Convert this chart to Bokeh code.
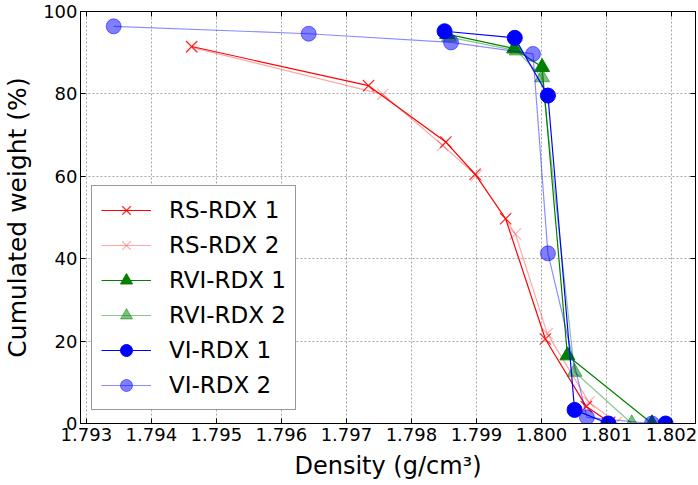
from bokeh.plotting import figure
from bokeh.models import (FixedTicker, PrintfTickFormatter, Range1d, LinearAxis, Legend,
                          LegendItem, CustomJSTickFormatter)
from bokeh.embed import file_html
from bokeh.resources import INLINE

# ---- data ----
rs1_x = [1.79462, 1.79734, 1.79853, 1.79898, 1.79945, 1.80006, 1.80069, 1.80105]
rs1_y = [91.5, 82.0, 68.3, 60.5, 49.7, 20.5, 4.1, 0.3]
rs2_x = [1.79462, 1.79756, 1.79848, 1.79900, 1.79960, 1.80009, 1.80073, 1.80115]
rs2_y = [91.3, 79.9, 67.5, 60.2, 46.0, 21.8, 5.2, 0.2]
rvi1_x = [1.79855, 1.79958, 1.80001, 1.80040, 1.80170]
rvi1_y = [94.5, 91.0, 86.5, 16.5, 0.0]
rvi2_x = [1.79858, 1.79962, 1.80001, 1.80051, 1.80139]
rvi2_y = [93.8, 90.5, 84.0, 12.5, 0.0]
vi1_x = [1.79851, 1.79959, 1.80010, 1.80051, 1.80103, 1.80191]
vi1_y = [95.2, 93.6, 79.6, 3.3, 0.0, 0.0]
vi2_x = [1.79342, 1.79642, 1.79861, 1.79987, 1.80010, 1.80070, 1.80170]
vi2_y = [96.4, 94.6, 92.5, 89.7, 41.3, 1.5, 0.0]

x_ticks = [1.793, 1.794, 1.795, 1.796, 1.797, 1.798, 1.799, 1.800, 1.801, 1.802]
y_ticks = [0, 20, 40, 60, 80, 100]

FONT = "DejaVu Sans"

p = figure(width=698, height=485, output_backend="svg", toolbar_location=None,
           x_range=Range1d(1.79291, 1.80237), y_range=Range1d(0, 100),
           min_border_left=79, min_border_right=3, min_border_top=11, min_border_bottom=62)
p.background_fill_color = "white"
p.border_fill_color = "white"
p.outline_line_color = "black"
p.outline_line_width = 1

for ax in (p.xaxis[0], p.yaxis[0]):
    ax.major_tick_in = 5
    ax.major_tick_out = 0
    ax.minor_tick_line_color = None
    ax.axis_line_color = "black"
    ax.major_label_text_font = FONT
    ax.major_label_text_font_size = "18px"
    ax.major_label_text_color = "black"
    ax.axis_label_text_font = FONT
    ax.axis_label_text_font_size = "24px"
    ax.axis_label_text_font_style = "normal"
    ax.axis_label_text_color = "black"
p.yaxis.axis_label_text_font_size = "25px"

p.xaxis.ticker = FixedTicker(ticks=x_ticks)
p.xaxis.formatter = PrintfTickFormatter(format="%.3f")
p.yaxis.ticker = FixedTicker(ticks=y_ticks)
p.xaxis.major_label_standoff = 4
p.yaxis.major_label_standoff = 3
p.xaxis.axis_label = "Density (g/cm³)"
p.yaxis.axis_label = "Cumulated weight (%)"
p.xaxis.axis_label_standoff = 8
p.yaxis.axis_label_standoff = 8

# tick marks on top / right (no labels)
blank = CustomJSTickFormatter(code="return ''")
top = LinearAxis(ticker=FixedTicker(ticks=x_ticks), formatter=blank,
                 major_tick_in=5, major_tick_out=0, minor_tick_line_color=None,
                 major_label_standoff=0)
right = LinearAxis(ticker=FixedTicker(ticks=y_ticks), formatter=blank,
                   major_tick_in=5, major_tick_out=0, minor_tick_line_color=None,
                   major_label_standoff=0)
p.add_layout(top, "above")
p.add_layout(right, "right")

p.xgrid.ticker = FixedTicker(ticks=x_ticks)
p.ygrid.ticker = FixedTicker(ticks=y_ticks)
for g in (p.xgrid[0], p.ygrid[0]):
    g.grid_line_color = "black"
    g.grid_line_alpha = 0.35
    g.grid_line_dash = "2 2"
    g.grid_line_width = 1

# invisible helper glyphs drawn first in the legend
dummy_l = p.line([], [], line_color="white", line_alpha=0.0)
dummy_s = p.scatter([], [], marker="x", size=0, line_color="white", line_alpha=0.0)

items = []
def series(xs, ys, color, marker, alpha_line, alpha_mark, label, size, lw, extra=()):
    r1 = p.line(xs, ys, line_color=color, line_alpha=alpha_line, line_width=lw)
    if marker == "x":
        r2 = p.scatter(xs, ys, marker="x", size=size, line_color=color, line_alpha=alpha_mark, line_width=1.2)
    else:
        r2 = p.scatter(xs, ys, marker=marker, size=size, fill_color=color, fill_alpha=alpha_mark,
                       line_color=color, line_alpha=alpha_mark)
    items.append(LegendItem(label=label, renderers=list(extra) + [r1, r2]))

series(rs1_x, rs1_y, "#ff0000", "x", 1.0, 0.85, "RS-RDX 1", 16, 1.2, extra=(dummy_l, dummy_s))
series(rs2_x, rs2_y, "#ff0000", "x", 0.35, 0.3, "RS-RDX 2", 16, 1.2)
series(rvi1_x, rvi1_y, "#008000", "triangle", 1.0, 1.0, "RVI-RDX 1", 15, 1.2)
series(rvi2_x, rvi2_y, "#008000", "triangle", 0.45, 0.5, "RVI-RDX 2", 15, 1.2)
series(vi1_x, vi1_y, "#0000ff", "circle", 1.0, 1.0, "VI-RDX 1", 15, 1.2)
series(vi2_x, vi2_y, "#0000ff", "circle", 0.45, 0.5, "VI-RDX 2", 15, 1.2)

legend = Legend(items=items, location=(11, 13))
legend.label_text_font = FONT
legend.label_text_font_size = "23px"
legend.label_text_color = "black"
legend.glyph_width = 50
legend.glyph_height = 30
legend.label_height = 30
legend.spacing = 5
legend.padding = 9
legend.margin = 0
legend.label_standoff = 18
legend.border_line_color = "#333333"
legend.border_line_width = 1
legend.background_fill_alpha = 1.0
p.add_layout(legend, "center")

open("out.html", "w").write(file_html(p, INLINE))
